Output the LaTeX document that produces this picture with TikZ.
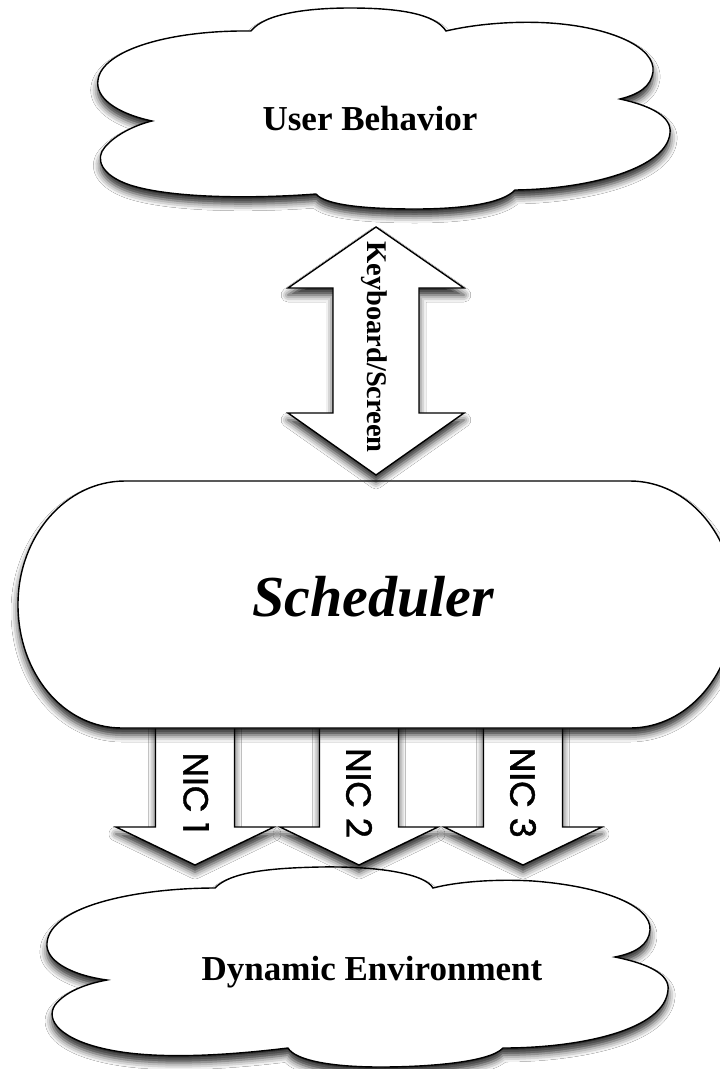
\documentclass[tikz,border=0pt]{standalone}
\usepackage{fontspec}
\setmainfont{Liberation Serif}
\newfontfamily\nicfont[FakeBold=1.2]{Poppins}
\usetikzlibrary{shadows.blur}

\begin{document}
\begin{tikzpicture}[x=1pt, y=-1pt,
  outline/.style={draw=black, fill=white, line width=1.4pt},
  dropshade/.style={blur shadow={shadow xshift=0pt, shadow yshift=-7pt,
      shadow blur radius=7pt, shadow opacity=85}},
  cloudtext/.style={anchor=base, inner sep=0pt,
      font=\bfseries\fontsize{35}{40}\selectfont},
  niclabel/.style={rotate=-90, inner sep=0pt,
      font=\nicfont\fontsize{35}{40}\selectfont}]

\useasboundingbox (0,0) rectangle (720,1069);
\fill[white] (0,0) rectangle (720,1069);

% lower cloud: Dynamic Environment
\path[outline, dropshade]
  (215,888) .. controls (230,872) and (270,868) .. (320,867)
            .. controls (380,866) and (425,874) .. (433,888)
            .. controls (460,881) and (500,879) .. (533,881)
            .. controls (600,886) and (652,905) .. (650,930)
            .. controls (649,945) and (635,953) .. (615,957)
            .. controls (650,964) and (670,975) .. (668,990)
            .. controls (665,1030) and (580,1048) .. (503,1048)
            .. controls (490,1062) and (430,1067) .. (380,1067)
            .. controls (330,1067) and (295,1060) .. (288,1048)
            .. controls (230,1055) and (160,1060) .. (110,1050)
            .. controls (60,1040) and (45,1020) .. (55,1005)
            .. controls (65,992) and (85,984) .. (107,980)
            .. controls (70,975) and (45,960) .. (47,943)
            .. controls (50,905) and (140,888) .. (215,888) -- cycle;

% three block arrows leaving the scheduler
\foreach \i/\cx in {1/195, 2/359, 3/523} {
  \coordinate (nictip\i) at (\cx,865);
  \path[outline, dropshade] (nictip\i) -- ++(79,-38) -- ++(-39.5,0)
     -- ++(0,-127) -- ++(-79,0) -- ++(0,127) -- ++(-39.5,0) -- cycle;
}

% scheduler
\path[outline, dropshade]
  (125,481) -- (630,481)
  .. controls (688,481) and (735,536) .. (735,604.5)
  .. controls (735,673) and (688,728) .. (630,728)
  -- (122,728)
  .. controls (63,728) and (18,673) .. (18,604.5)
  .. controls (18,536) and (66,481) .. (125,481) -- cycle;

% two-way block arrow between user and scheduler
\coordinate (kbtop) at (376,227);
\coordinate (kbbot) at (376,475);
\path[outline, dropshade] (kbtop) -- ++(88,61) -- ++(-45,0) -- ++(0,125)
  -- ++(45,0) -- (kbbot) -- ++(-88,-62) -- ++(45,0) -- ++(0,-125)
  -- ++(-45,0) -- cycle;

% upper cloud: User Behavior
\path[outline, dropshade]
  (251,31) .. controls (265,13) and (310,8) .. (350,8)
           .. controls (400,8) and (435,14) .. (446,31)
           .. controls (480,23) and (520,21) .. (550,23)
           .. controls (610,27) and (656,47) .. (653,72)
           .. controls (651,86) and (640,94) .. (620,99)
           .. controls (652,106) and (672,117) .. (670,133)
           .. controls (667,168) and (590,189) .. (515,190)
           .. controls (502,204) and (460,209) .. (415,209)
           .. controls (365,209) and (325,205) .. (316,194)
           .. controls (250,199) and (170,198) .. (130,185)
           .. controls (100,175) and (95,158) .. (105,147)
           .. controls (115,135) and (135,125) .. (152,121)
           .. controls (115,113) and (95,97) .. (98,80)
           .. controls (102,50) and (170,30) .. (251,31) -- cycle;

% labels
\node[cloudtext] (ub) at (370,130) {User Behavior};
\node[cloudtext] (env) at (372,980) {Dynamic Environment};
\node[anchor=base, inner sep=0pt,
      font=\bfseries\itshape\fontsize{58}{64}\selectfont] (sched) at (373,616) {Scheduler};
\node[rotate=-90, inner sep=0pt,
      font=\bfseries\fontsize{28.5}{32}\selectfont] (kbd) at (374,347) {Keyboard/Screen};
\foreach \i/\cx in {1/196, 2/359, 3/523} {
  \node[niclabel] (nic\i) at (\cx,793) {NIC \i};
}
\end{tikzpicture}
\end{document}
